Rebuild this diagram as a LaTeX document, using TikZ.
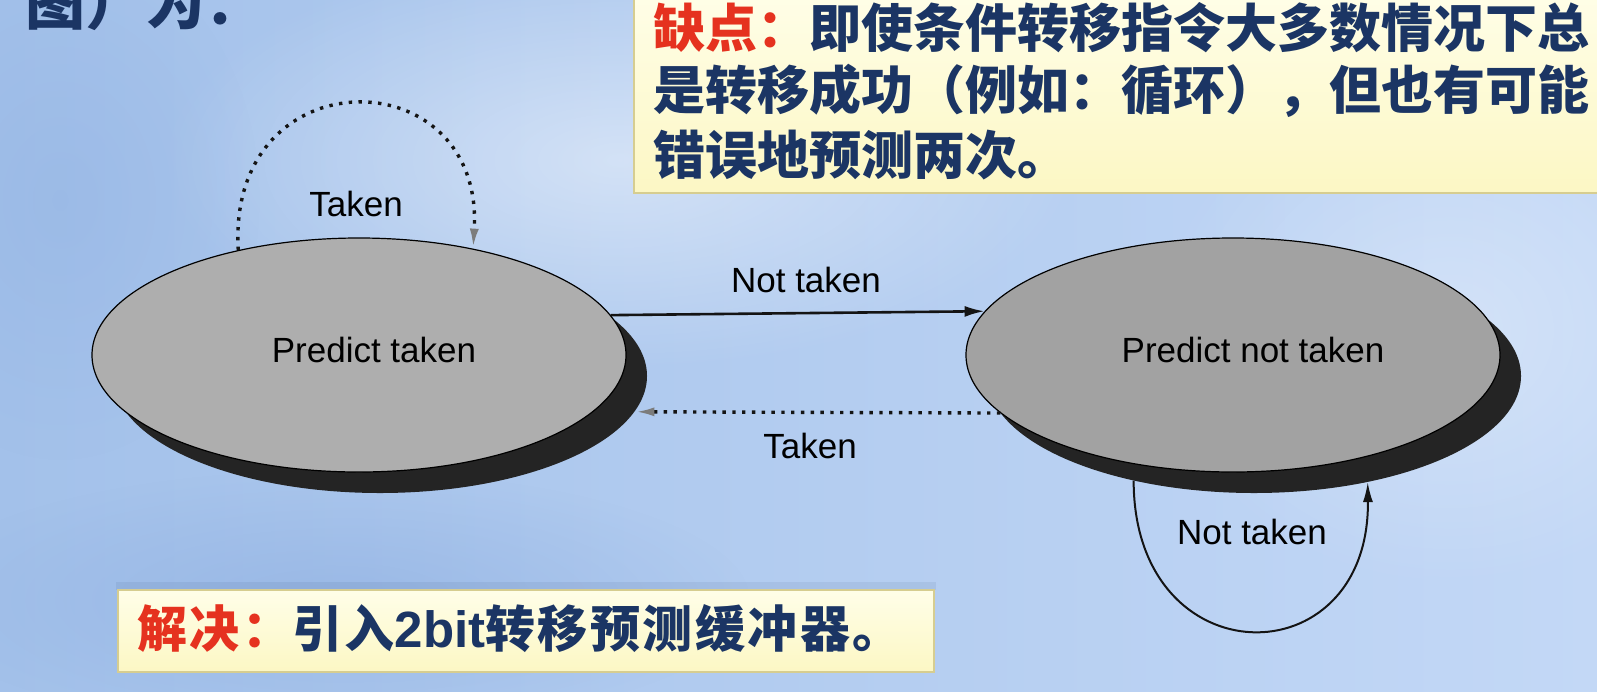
\documentclass[tikz,border=0pt]{standalone}
\usepackage{fontspec}
\setmainfont{Liberation Sans}
\newfontfamily\cjk{Noto Sans CJK SC}
\newfontfamily\cjkwide{Noto Sans CJK SC}[LetterSpace=5]
\usetikzlibrary{arrows.meta,shapes.geometric,fadings}

\definecolor{bgleft}{HTML}{A3C1EA}
\definecolor{bgright}{HTML}{C3D8F6}
\definecolor{bgdark}{HTML}{8CADE0}
\definecolor{navy}{HTML}{1B3564}
\definecolor{alert}{HTML}{E5321F}
\definecolor{notetop}{HTML}{FFFEE8}
\definecolor{notebot}{HTML}{FCF7C4}
\definecolor{noteedge}{HTML}{D6CD90}
\definecolor{stateL}{HTML}{AEAEAE}
\definecolor{stateR}{HTML}{A2A2A2}
\definecolor{shadowc}{HTML}{242424}
\definecolor{tipgray}{HTML}{7C7C7C}
\definecolor{inkc}{HTML}{141414}

% soft radial fading for background glows
\tikzfading[name=softglow, inner color=transparent!0, outer color=transparent!100]

\tikzset{
  state/.style={ellipse, draw=black, line width=1.2pt, minimum width=534pt,
    minimum height=234pt, inner sep=0pt},
  stateshadow/.style={ellipse, fill=shadowc, minimum width=534pt,
    minimum height=234pt, inner sep=0pt},
  lbl/.style={font=\fontsize{35}{40}\selectfont, text=black, inner sep=0pt},
  solidedge/.style={draw=inkc, line width=2.6pt, -{Latex[length=20pt,width=11pt]}},
  loopedge/.style={draw=inkc, line width=2pt, -{Latex[length=20pt,width=10pt]}},
  dottededge/.style={draw=inkc, line width=3.4pt, dash pattern=on 3.4pt off 6.4pt,
    -{Latex[length=20pt,width=9pt,color=tipgray]}},
  note/.style={draw=noteedge, line width=2pt, top color=notetop, bottom color=notebot},
  notetext/.style={inner sep=0pt, anchor=base west, text=navy},
  glow/.style={path fading=softglow},
}

\begin{document}
\begin{tikzpicture}[x=1pt, y=-1pt]
  \useasboundingbox (0,0) rectangle (1597,691);
  \begin{scope}
    \clip (0,0) rectangle (1597,691);
    % slide background
    \fill[left color=bgleft, right color=bgright] (0,0) rectangle (1597,691);
    \fill[white, opacity=0.45, glow] (620,160) ellipse (460 and 210);
    \fill[white, opacity=0.3, glow] (1450,330) ellipse (300 and 260);
    \fill[bgdark, opacity=0.55, glow] (330,600) ellipse (420 and 130);
    \fill[bgdark, opacity=0.35, glow] (60,200) ellipse (200 and 260);

    % heading fragment
    \node[notetext, font=\cjk\bfseries\fontsize{60}{70}\selectfont] (intro) at (25,24) {图）为：};

    % note boxes
    \fill[navy, opacity=0.08] (116,582) rectangle (936,590);
    \draw[note] (634,-10) rectangle (1620,193);
    \draw[note] (118,590) rectangle (934,672);
  \end{scope}

  \node[notetext, font=\cjk\bfseries\fontsize{52}{62}\selectfont] (cons1) at (653,47)
    {\textcolor{alert}{缺点：}即使条件转移指令大多数情况下总};
  \node[notetext, font=\cjk\bfseries\fontsize{52}{62}\selectfont] (cons2) at (653,109)
    {是转移成功（例如：循环），但也有可能};
  \node[notetext, font=\cjk\bfseries\fontsize{52}{62}\selectfont] (cons3) at (653,174)
    {错误地预测两次。};
  \node[notetext, font=\cjkwide\bfseries\fontsize{50}{60}\selectfont] (fix) at (137,647)
    {\textcolor{alert}{解决：}引入{\normalfont\bfseries\fontsize{51}{60}\selectfont 2bit}转移预测缓冲器。};

  % states with drop shadows
  \node[stateshadow] (LS) at (380,376) {};
  \node[stateshadow] (RS) at (1254,376) {};
  \node[state, fill=stateL] (L) at (359,355) {};
  \node[state, fill=stateR] (R) at (1233,355) {};
  \node[lbl] (Ltext) at (374,350) {Predict taken};
  \node[lbl] (Rtext) at (1253,350) {Predict not taken};

  % transitions
  \draw[dottededge] (L.139.3) .. controls +(-12,-195) and +(12,-192) .. (L.43.5);
  \node[lbl] (tk1) at (356,204) {Taken};

  \draw[solidedge] (L.9.4) -- (R.170.6);
  \node[lbl] (nt1) at (806,280) {Not taken};

  \draw[dottededge] (R.194) -- (LS.-8.3);
  \node[lbl] (tk2) at (810,446) {Taken};

  \draw[loopedge] (RS.221.4) .. controls +(0,198) and +(2,198) .. (RS.317.1);
  \node[lbl] (nt2) at (1252,532) {Not taken};
\end{tikzpicture}
\end{document}
